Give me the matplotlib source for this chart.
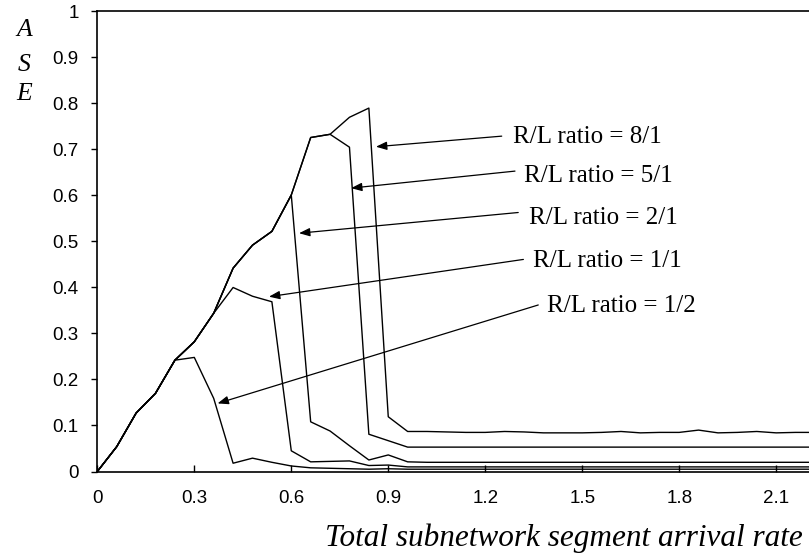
import numpy as np
import matplotlib
matplotlib.use("Agg")
import matplotlib.pyplot as plt

# ASE vs total subnetwork segment arrival rate, five R/L ratios

rate = [0.00, 0.06, 0.12, 0.18, 0.24, 0.30, 0.36, 0.42, 0.48, 0.54,
        0.60, 0.66, 0.72, 0.78, 0.84, 0.90, 0.96, 1.02, 1.08, 1.14,
        1.20, 1.26, 1.32, 1.38, 1.44, 1.50, 1.56, 1.62, 1.68, 1.74,
        1.80, 1.86, 1.92, 1.98, 2.04, 2.10, 2.16, 2.22]

ase_8_1 = [0.000, 0.054, 0.127, 0.170, 0.242, 0.282, 0.344, 0.442, 0.492, 0.522,
           0.601, 0.726, 0.733, 0.770, 0.790, 0.119, 0.087, 0.087, 0.086, 0.085,
           0.085, 0.087, 0.086, 0.084, 0.084, 0.084, 0.085, 0.087, 0.084, 0.085,
           0.085, 0.090, 0.084, 0.085, 0.087, 0.084, 0.085, 0.085]

ase_5_1 = [0.000, 0.054, 0.127, 0.170, 0.242, 0.282, 0.344, 0.442, 0.492, 0.522,
           0.601, 0.726, 0.733, 0.705, 0.081, 0.067, 0.053, 0.053, 0.053, 0.053,
           0.053, 0.053, 0.053, 0.053, 0.053, 0.053, 0.053, 0.053, 0.053, 0.053,
           0.053, 0.053, 0.053, 0.053, 0.053, 0.053, 0.053, 0.053]

ase_2_1 = [0.000, 0.054, 0.127, 0.170, 0.242, 0.282, 0.344, 0.442, 0.492, 0.522,
           0.601, 0.108, 0.088, 0.056, 0.025, 0.036, 0.021, 0.020, 0.020, 0.020,
           0.020, 0.020, 0.020, 0.020, 0.020, 0.020, 0.020, 0.020, 0.020, 0.020,
           0.020, 0.020, 0.020, 0.020, 0.020, 0.020, 0.020, 0.020]

ase_1_1 = [0.000, 0.054, 0.127, 0.170, 0.242, 0.282, 0.344, 0.400, 0.381, 0.369,
           0.045, 0.021, 0.022, 0.023, 0.013, 0.014, 0.010, 0.010, 0.010, 0.010,
           0.010, 0.010, 0.010, 0.010, 0.010, 0.010, 0.010, 0.010, 0.010, 0.010,
           0.010, 0.010, 0.010, 0.010, 0.010, 0.010, 0.010, 0.010]

ase_1_2 = [0.000, 0.054, 0.127, 0.170, 0.242, 0.248, 0.159, 0.018, 0.029, 0.020,
           0.012, 0.008, 0.007, 0.006, 0.005, 0.006, 0.005, 0.005, 0.005, 0.005,
           0.005, 0.005, 0.005, 0.005, 0.005, 0.005, 0.005, 0.005, 0.005, 0.005,
           0.005, 0.005, 0.005, 0.005, 0.005, 0.005, 0.005, 0.005]

labels = ['R/L ratio = 8/1', 'R/L ratio = 5/1', 'R/L ratio = 2/1',
          'R/L ratio = 1/1', 'R/L ratio = 1/2']

xticks = [0, 0.3, 0.6, 0.9, 1.2, 1.5, 1.8, 2.1]
xticklabels = ['0', '0.3', '0.6', '0.9', '1.2', '1.5', '1.8', '2.1']
yticks = [0, 0.1, 0.2, 0.3, 0.4, 0.5, 0.6, 0.7, 0.8, 0.9, 1.0]
yticklabels = ['0', '0.1', '0.2', '0.3', '0.4', '0.5', '0.6', '0.7', '0.8', '0.9', '1']

# arrow tips, arrow tails, text anchors (data coords)
tips = [(0.862, 0.706), (0.785, 0.616), (0.624, 0.518), (0.531, 0.380), (0.372, 0.148)]
tails = [(1.251, 0.729), (1.292, 0.653), (1.302, 0.563), (1.318, 0.461), (1.364, 0.362)]
text_pos = [(1.287, 0.715), (1.320, 0.630), (1.336, 0.538), (1.349, 0.445), (1.390, 0.347)]

serif = ['Liberation Serif', 'DejaVu Serif']
sans = ['Liberation Sans', 'DejaVu Sans']

fig = plt.figure(figsize=(8.09, 5.57), dpi=100)
ax = fig.add_axes([0.1203, 0.1535, 0.959, 0.8259])

for ys in [ase_8_1, ase_5_1, ase_2_1, ase_1_1, ase_1_2]:
    ax.plot(rate, ys, color='black', lw=1.0)

for tip, tail, pos, lab in zip(tips, tails, text_pos, labels):
    ax.annotate('', xy=tip, xytext=tail,
                arrowprops=dict(arrowstyle='-|>,head_length=0.65,head_width=0.25',
                                color='black', lw=0.9, mutation_scale=10,
                                shrinkA=0, shrinkB=0))
    ax.text(pos[0], pos[1], lab, family=serif, fontsize=18,
            ha='left', va='baseline')

ax.set_xlim(0, 2.4)
ax.set_ylim(0, 1)
ax.set_xticks(xticks)
ax.set_xticklabels(xticklabels, family=sans, fontsize=13.5)
ax.set_yticks(yticks)
ax.set_yticklabels(yticklabels, family=sans, fontsize=13.5)
ax.tick_params(axis='x', direction='in', length=4.8, width=1, pad=13.5)
ax.tick_params(axis='y', direction='out', length=4, width=1, pad=9.5)
for s in ax.spines.values():
    s.set_linewidth(1.2)

# stacked y label
for letter, ypix in zip(['A', 'S', 'E'], [30, 65, 94]):
    fig.text(24 / 809, 1 - ypix / 557, letter, family=serif, style='italic',
             fontsize=18.5, ha='center', va='center')

fig.text(803 / 809, 1 - 546 / 557, 'Total subnetwork segment arrival rate',
         family=serif, style='italic', fontsize=22.5, ha='right', va='baseline')

fig.savefig('out.png', dpi=100)
